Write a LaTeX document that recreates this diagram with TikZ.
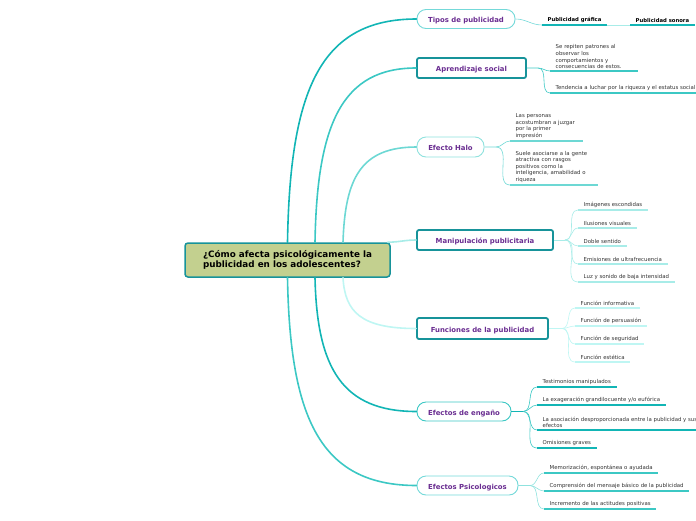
\documentclass[tikz,border=0pt]{standalone}
\usepackage{fontspec}
\setmainfont{DejaVu Sans}
\definecolor{cfill}{HTML}{C3D08F}
\definecolor{dteal}{HTML}{17939A}
\definecolor{ptext}{HTML}{6A2D91}
\definecolor{stext}{HTML}{333333}
\definecolor{ca}{HTML}{12B5B5}
\definecolor{cb}{HTML}{3CC8C4}
\definecolor{cc}{HTML}{6DD8D4}
\definecolor{cd}{HTML}{A8ECE8}
\definecolor{ce}{HTML}{BFF6F3}
\definecolor{pa}{HTML}{74D9D9}
\definecolor{pb}{HTML}{8FE2DE}
\begin{document}
\begin{tikzpicture}[x=1pt,y=-1pt,
  mainn/.style={draw, fill=white, text=ptext, font=\fontsize{6.9}{8}\selectfont\bfseries, inner sep=0pt, align=center, text height=1.45ex, text depth=0pt},
  pill/.style={mainn, rounded corners=9pt, line width=0.9pt},
  boxm/.style={mainn, rounded corners=2pt, line width=1.8pt, draw=dteal},
  sub/.style={anchor=south west, inner xsep=5.5pt, inner ysep=2.1pt, font=\fontsize{5.4}{6.6}\selectfont, text=stext, align=left},
  trunk/.style={line width=1.6pt, line cap=round},
  twig/.style={line width=0.6pt},
  ul/.style={line width=1.2pt}]
\useasboundingbox (0,0) rectangle (696,520);

% central
\node[draw=dteal, fill=cfill, line width=1.5pt, rounded corners=3pt, minimum width=205pt, minimum height=34pt, inner sep=0pt, align=left, font=\fontsize{8.8}{10.5}\selectfont\bfseries, text=black] (c) at (287.5,260) {¿Cómo afecta psicológicamente la\\publicidad en los adolescentes?};

% main nodes
\node[pill, draw=pa, minimum width=98pt, minimum height=19pt] (t) at (466,19) {Tipos de publicidad};
\node[boxm, minimum width=109pt, minimum height=20pt] (a) at (471.5,68) {Aprendizaje social};
\node[pill, draw=pb, minimum width=67pt, minimum height=20pt] (h) at (450.5,147) {Efecto Halo};
\node[boxm, minimum width=136pt, minimum height=20pt] (m) at (485,240) {Manipulación publicitaria};
\node[boxm, minimum width=131pt, minimum height=21pt] (f) at (482.5,328.5) {Funciones de la publicidad};
\node[pill, draw=cb, minimum width=94pt, minimum height=19pt] (e) at (464,411.5) {Efectos de engaño};
\node[pill, draw=pa, minimum width=101pt, minimum height=19pt] (p) at (467.5,485.5) {Efectos Psicologicos};

% trunks
\draw[trunk, ca] (c.north) .. controls (290,90) and (320,19) .. (t.west);
\draw[trunk, cb] ([xshift=27.5pt]c.north) .. controls (317,124) and (342,68) .. (a.west);
\draw[trunk, cc] ([xshift=55.5pt]c.north) .. controls (345,178) and (361,147) .. (h.west);
\draw[trunk, cd] ([xshift=-3pt]c.north east) .. controls (400,242) and (405,240) .. (m.west);
\draw[trunk, ce] ([xshift=55.5pt]c.south) .. controls (345,312) and (361,328.5) .. (f.west);
\draw[trunk, ca] ([xshift=27.5pt]c.south) .. controls (317,368) and (342,411.5) .. (e.west);
\draw[trunk, cb] (c.south) .. controls (290,418) and (320,485.5) .. (p.west);

% Tipos
\node[sub, font=\fontsize{5.3}{6.6}\selectfont\bfseries, text=black] (t1) at (542,25) {Publicidad gráfica};
\node[sub, font=\fontsize{5.3}{6.6}\selectfont\bfseries, text=black] (t2) at (630,25) {Publicidad sonora};
\draw[twig, pa] (t.east) to[out=0,in=180] (t1.south west);
\draw[twig, cd] (t1.south east) -- (t2.south west);
\draw[ul, ca] (t1.south west) -- (t1.south east);
\draw[ul, ca] (t2.south west) -- (t2.south east);

% Aprendizaje
\node[sub, text width=77pt] (a1) at (550,71) {Se repiten patrones al\\observar los\\comportamientos y\\consecuencias de estos.};
\node[sub] (a2) at (550,93) {Tendencia a luchar por la riqueza y el estatus social};
\coordinate (aj) at (538,68);
\draw[twig, cb] (a.east) -- (aj) to[out=0,in=180] (a1.south west);
\draw[twig, cb] (aj) to[out=0,in=180] (a2.south west);
\draw[ul, cb] (a1.south west) -- (a1.south east);
\draw[ul, cb] (a2.south west) -- (a2.south east);

% Halo
\node[sub, text width=62pt] (h1) at (510,141) {Las personas\\acostumbran a juzgar\\por la primer\\impresión};
\node[sub, text width=77pt] (h2) at (510,185) {Suele asociarse a la gente\\atractiva con rasgos\\positivos como la\\inteligencia, amabilidad o\\riqueza};
\coordinate (hj) at (496,147);
\draw[twig, cc] (h.east) -- (hj) to[out=0,in=180] (h1.south west);
\draw[twig, cc] (hj) to[out=0,in=180] (h2.south west);
\draw[ul, cc] (h1.south west) -- (h1.south east);
\draw[ul, cc] (h2.south west) -- (h2.south east);

% Manipulacion
\node[sub] (m1) at (578,210) {Imágenes escondidas};
\node[sub] (m2) at (578,228) {Ilusiones visuales};
\node[sub] (m3) at (578,246) {Doble sentido};
\node[sub] (m4) at (578,264) {Emisiones de ultrafrecuencia};
\node[sub] (m5) at (578,282) {Luz y sonido de baja intensidad};
\coordinate (mj) at (565,240);
\draw[twig, cd] (m.east) -- (mj);
\foreach \k in {m1,m2,m3,m4,m5}{
  \draw[twig, cd] (mj) to[out=0,in=180] (\k.south west);
  \draw[ul, cd] (\k.south west) -- (\k.south east);
}

% Funciones
\node[sub] (f1) at (575,308) {Función informativa};
\node[sub] (f2) at (575,326) {Función de persuasión};
\node[sub] (f3) at (575,344) {Función de seguridad};
\node[sub] (f4) at (575,362) {Función estética};
\coordinate (fj) at (562,328.5);
\draw[twig, ce] (f.east) -- (fj);
\foreach \k in {f1,f2,f3,f4}{
  \draw[twig, ce] (fj) to[out=0,in=180] (\k.south west);
  \draw[ul, ce] (\k.south west) -- (\k.south east);
}

% Engano
\node[sub] (e1) at (537,387) {Testimonios manipulados};
\node[sub] (e2) at (537,405) {La exageración grandilocuente y/o eufórica};
\node[sub] (e3) at (537,430) {La asociación desproporcionada entre la publicidad y sus\\efectos};
\node[sub] (e4) at (537,448) {Omisiones graves};
\coordinate (ej) at (523,411.5);
\draw[twig, ca] (e.east) -- (ej);
\foreach \k in {e1,e2,e3,e4}{
  \draw[twig, cb] (ej) to[out=0,in=180] (\k.south west);
  \draw[ul, ca] (\k.south west) -- (\k.south east);
}

% Psicologicos
\node[sub] (p1) at (544,473) {Memorización, espontánea o ayudada};
\node[sub] (p2) at (544,491) {Comprensión del mensaje básico de la publicidad};
\node[sub] (p3) at (544,509) {Incremento de las actitudes positivas};
\coordinate (pj) at (530,485.5);
\draw[twig, pb] (p.east) -- (pj);
\foreach \k in {p1,p2,p3}{
  \draw[twig, pb] (pj) to[out=0,in=180] (\k.south west);
  \draw[ul, cb] (\k.south west) -- (\k.south east);
}
\end{tikzpicture}
\end{document}
